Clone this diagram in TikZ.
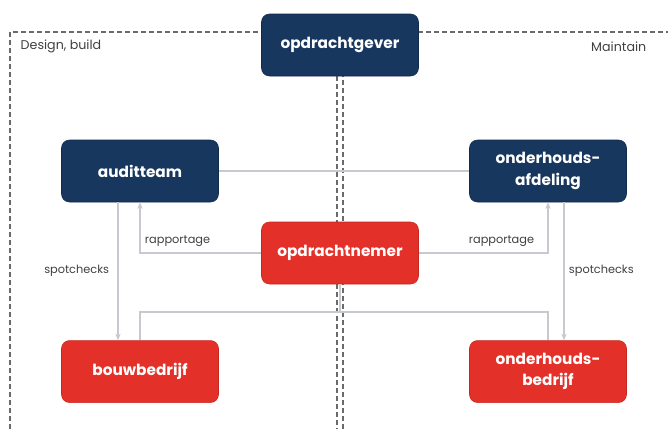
\documentclass[tikz,border=0pt]{standalone}
\usepackage{fontspec}
\setmainfont{Poppins}
\usepackage{xcolor}
\usetikzlibrary{arrows.meta, positioning, backgrounds}
\definecolor{clientblue}{HTML}{17375E}
\definecolor{clientborder}{HTML}{0F2A4A}
\definecolor{contractred}{HTML}{E3312A}
\definecolor{contractborder}{HTML}{C42820}
\definecolor{linkgray}{HTML}{C6CACF}
\definecolor{framegray}{HTML}{6A6A6A}
\definecolor{labelgray}{HTML}{404040}

\begin{document}
\begin{tikzpicture}[
  x=0.75pt, y=-0.75pt,
  box/.style={rectangle, rounded corners=6pt, draw=clientborder, fill=clientblue,
               minimum width=117.75pt, minimum height=46.5pt, align=center,
               text=white, font=\fontsize{11.5}{16}\selectfont\bfseries},
  sbox/.style={box, draw=contractborder, fill=contractred},
  link/.style={draw=linkgray, line width=0.8pt},
  arrow/.style={link, -{Stealth[length=5pt, width=4pt]}},
  linklabel/.style={font=\fontsize{8.5}{9}\selectfont, text=labelgray},
  framelabel/.style={font=\fontsize{9.5}{10}\selectfont, text=labelgray},
  frame/.style={draw=framegray, line width=0.9pt, dash pattern=on 3.6pt off 2.4pt}
]
  \useasboundingbox (0,0) rectangle (668,429);

  \node[box] (opdrachtgever) at (340,45)  {opdrachtgever};
  \node[box] (auditteam)     at (140,171) {auditteam};
  \node[box] (afdeling)      at (548,171) {onderhouds-\\afdeling};
  \node[sbox] (opdrachtnemer) at (340,253) {opdrachtnemer};
  \node[sbox, below=103.5pt of auditteam] (bouwbedrijf) {bouwbedrijf};
  \node[sbox, below=103.5pt of afdeling]  (bedrijf)     {onderhouds-\\bedrijf};

  \node[framelabel, anchor=west] (design)   at (16,46)  {Design, build};
  \node[framelabel, anchor=east] (maintain) at (651,47) {Maintain};

  % lijnen tussen de partijen
  \draw[link] (auditteam) -- (afdeling);
  \draw[arrow] ([xshift=-16.5pt]auditteam.south) -- node[linklabel, left=3pt]{spotchecks} ([xshift=-16.5pt]bouwbedrijf.north);
  \draw[arrow] (opdrachtnemer.west) -| node[linklabel, pos=0.345, above=1pt]{rapportage} (auditteam.south);
  \draw[arrow] (opdrachtnemer.east) -| node[linklabel, pos=0.32, above=1pt]{rapportage} (afdeling.south);
  \draw[arrow] ([xshift=12pt]afdeling.south) -- node[linklabel, right=0pt]{spotchecks} ([xshift=12pt]bedrijf.north);
  \coordinate (split) at (340,312);
  \draw[link] (opdrachtnemer.south) -- (split) -| (bouwbedrijf.north);
  \draw[link] (split) -| (bedrijf.north);

  % kaders
  \begin{scope}[on background layer]
    \draw[frame] (10,429) -- (10,32) -- (337,32) -- (337,429);
    \draw[frame] (343,429) -- (343,32) -- (668,32);
  \end{scope}
\end{tikzpicture}
\end{document}
